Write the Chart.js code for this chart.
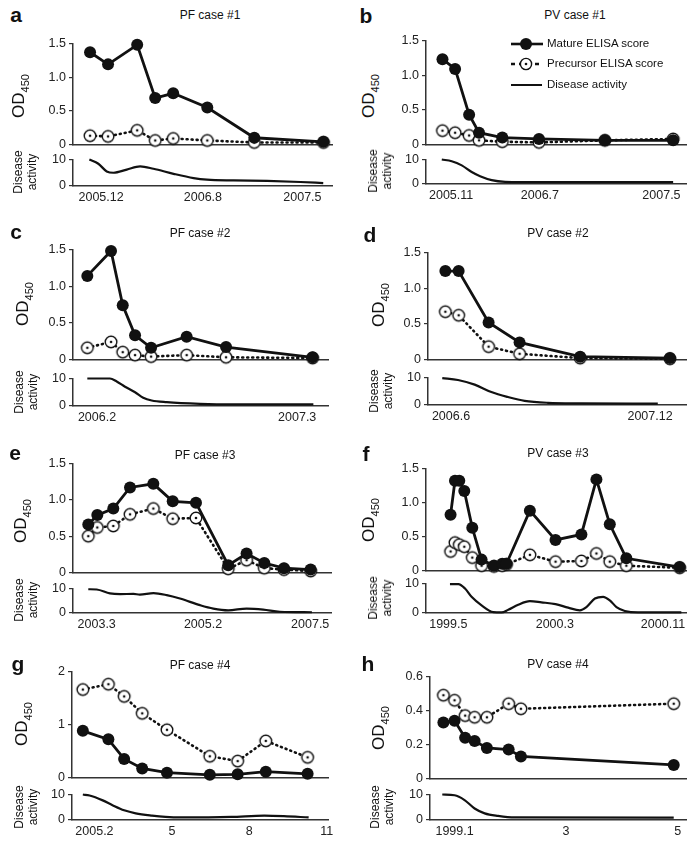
<!DOCTYPE html>
<html>
<head>
<meta charset="utf-8">
<script src="https://cdn.jsdelivr.net/npm/chart.js@4.4.1/dist/chart.umd.min.js"></script>
<style>
  body { margin: 0; background: #fff; font-family: "Liberation Sans", Arial, sans-serif; }
  #fig { position: relative; width: 696px; height: 848px; overflow: hidden; }
  #fig canvas { position: absolute; }
  .txt { position: absolute; white-space: nowrap; color: #111; transform: translate(-50%, -50%); }
  .rot { transform: translate(-50%, -50%) rotate(-90deg); text-align: center; }
  .letter { font-weight: bold; font-size: 21px; }
  .title { font-size: 12px; }
  .od { font-size: 17px; }
  .od sub { font-size: 11px; }
  .da { font-size: 12px; line-height: 14px; }
  .leg { position: absolute; font-size: 11.5px; color: #111; white-space: nowrap; }
</style>
</head>
<body>
<div id="fig"></div>
<script>
// time axis: months from the first labelled date (g, h: month number)

// a - PF case #1
const aTime = [-0.93, 0.59, 3.05, 4.57, 6.09, 8.97, 12.94, 18.78];
const aMature = [1.37, 1.19, 1.48, 0.69, 0.76, 0.55, 0.10, 0.04];
const aPrecursor = [0.13, 0.12, 0.21, 0.06, 0.09, 0.06, 0.03, 0.03];
const aDisTime = [-0.99, -0.23, 0.48, 1.04, 2.17, 3.3, 4.42, 6.12, 7.81, 8.94, 11.2, 14.02, 16.84, 18.76];
const aDisease = [10, 8.4, 5.5, 5.0, 6.2, 7.4, 6.5, 4.6, 3.0, 2.4, 2.1, 1.9, 1.5, 1.1];
const aTicks = [0, 8.6, 17];
const aTickLabels = ['2005.12', '2006.8', '2007.5'];

// b - PV case #1
const bTime = [-0.74, 0.34, 1.54, 2.39, 4.38, 7.52, 13.16, 19.0];
const bMature = [1.23, 1.09, 0.43, 0.17, 0.10, 0.08, 0.06, 0.06];
const bPrecursor = [0.20, 0.17, 0.13, 0.06, 0.04, 0.03, 0.06, 0.08];
const bDisTime = [-0.8, 0.05, 0.91, 1.76, 2.48, 3.47, 4.62, 6.03, 19.0];
const bDisease = [10, 9.3, 7.6, 4.9, 3.2, 1.6, 0.9, 0.8, 0.8];
const bTicks = [0, 7.6, 18];
const bTickLabels = ['2005.11', '2006.7', '2007.5'];

// c - PF case #2
const cTime = [-0.63, 0.91, 1.67, 2.47, 3.51, 5.82, 8.38, 14.0];
const cMature = [1.14, 1.48, 0.74, 0.33, 0.16, 0.31, 0.17, 0.03];
const cPrecursor = [0.16, 0.24, 0.10, 0.06, 0.04, 0.06, 0.03, 0.02];
const cDisTime = [-0.63, 0.84, 1.28, 1.82, 2.47, 3.0, 3.55, 4.53, 6.69, 8.85, 14.05];
const cDisease = [10, 10, 8.9, 7.0, 5.0, 3.0, 2.0, 1.4, 0.8, 0.6, 0.6];
const cTicks = [0, 13];
const cTickLabels = ['2006.2', '2007.3'];

// d - PV case #2
const dTime = [-0.51, 0.69, 3.4, 6.2, 11.68, 19.8];
const dMature = [1.24, 1.24, 0.52, 0.24, 0.04, 0.02];
const dPrecursor = [0.67, 0.62, 0.18, 0.08, 0.02, 0.01];
const dDisTime = [-0.79, 0.63, 2.14, 3.65, 5.15, 6.66, 8.77, 11.78, 18.7];
const dDisease = [9.8, 9.1, 7.4, 4.7, 2.9, 1.5, 0.8, 0.6, 0.5];
const dTicks = [0, 18];
const dTickLabels = ['2006.6', '2007.12'];

// e - PF case #3
const eTime = [-1.97, 0.14, 3.89, 7.8, 13.26, 17.8, 23.25, 30.8, 35.1, 39.25, 43.86, 50.1];
const eMature = [0.66, 0.79, 0.88, 1.17, 1.22, 0.98, 0.96, 0.10, 0.26, 0.13, 0.06, 0.04];
const ePrecursor = [0.50, 0.62, 0.64, 0.80, 0.88, 0.74, 0.75, 0.05, 0.17, 0.06, 0.04, 0.02];
const eDisTime = [-1.97, 0, 3.1, 5.5, 8.6, 10.1, 13.3, 16.4, 19.5, 24.2, 27.3, 30.8, 35.1, 39.0, 42.9, 50.4];
const eDisease = [9.7, 9.6, 8.0, 7.7, 7.8, 7.5, 8.1, 7.3, 5.9, 3.2, 1.8, 1.1, 1.8, 1.4, 0.5, 0.3];
const eTicks = [0, 24.9, 50];
const eTickLabels = ['2003.3', '2005.2', '2007.5'];

// f - PV case #3
const fTime = [0.19, 0.56, 0.92, 1.34, 2.01, 2.79, 3.83, 4.52, 4.88, 6.84, 8.99, 11.16, 12.42, 13.54, 14.93, 19.4];
const fMature = [0.82, 1.32, 1.32, 1.17, 0.63, 0.16, 0.07, 0.10, 0.10, 0.88, 0.45, 0.53, 1.34, 0.68, 0.18, 0.05];
const fPrecursor = [0.28, 0.41, 0.38, 0.35, 0.19, 0.07, 0.06, 0.07, 0.09, 0.23, 0.13, 0.14, 0.25, 0.13, 0.07, 0.04];
const fDisTime = [0.14, 0.84, 1.4, 1.95, 2.79, 3.77, 4.47, 5.03, 5.86, 6.84, 7.81, 8.99, 10.05, 11.03, 11.58, 12.29, 12.98, 13.54, 14.1, 14.8, 15.91, 19.54];
const fDisease = [9.8, 9.8, 8.3, 5.5, 2.6, 0.3, 0.2, 1.1, 2.8, 4.0, 3.6, 3.0, 1.8, 0.9, 2.0, 4.9, 5.5, 4.3, 2.0, 0.7, 0.2, 0.2];
const fTicks = [0, 8.93, 18];
const fTickLabels = ['1999.5', '2000.3', '2000.11'];

// g - PF case #4
const gTime = [1.55, 2.54, 3.15, 3.85, 4.81, 6.47, 7.55, 8.64, 10.26];
const gMature = [0.88, 0.72, 0.35, 0.17, 0.09, 0.05, 0.06, 0.11, 0.07];
const gPrecursor = [1.66, 1.76, 1.53, 1.21, 0.90, 0.40, 0.31, 0.69, 0.38];
const gDisTime = [1.55, 1.81, 2.32, 2.70, 3.15, 3.60, 4.23, 4.75, 5.38, 7.3, 8.58, 9.34, 10.3];
const gDisease = [10, 9.6, 7.7, 5.8, 3.8, 2.6, 1.7, 1.2, 1.0, 1.2, 1.7, 1.5, 1.0];
const gTicks = [2, 5, 8, 11];
const gTickLabels = ['2005.2', '5', '8', '11'];

// h - PV case #4
const hTime = [0.80, 1.0, 1.19, 1.36, 1.58, 1.97, 2.19, 4.93];
const hMature = [0.33, 0.34, 0.24, 0.22, 0.18, 0.17, 0.13, 0.08];
const hPrecursor = [0.49, 0.46, 0.37, 0.36, 0.36, 0.44, 0.41, 0.44];
const hDisTime = [0.78, 1.0, 1.18, 1.36, 1.54, 1.78, 2.08, 4.93];
const hDisease = [10, 9.7, 7.8, 4.5, 2.6, 1.6, 1.0, 0.9];
const hTicks = [1, 3, 5];
const hTickLabels = ['1999.1', '3', '5'];

const panels = [
  { letter: 'a', title: 'PF case #1', time: aTime, mature: aMature, precursor: aPrecursor, disTime: aDisTime, disease: aDisease, ticks: aTicks, tickLabels: aTickLabels, xMin: -2.37, xMax: 19.5, yMax: 1.5, yStep: 0.5,
    od: { left: 73, right: 332, top: 43, bottom: 147 }, da: { top: 159, bottom: 186 }, letterAt: [16, 15], titleAt: [210, 15], odAt: [20, 96], daAt: [25, 172] },
  { letter: 'b', title: 'PV case #1', time: bTime, mature: bMature, precursor: bPrecursor, disTime: bDisTime, disease: bDisease, ticks: bTicks, tickLabels: bTickLabels, xMin: -2.15, xMax: 20.1, yMax: 1.5, yStep: 0.5,
    od: { left: 426, right: 686, top: 40, bottom: 147 }, da: { top: 159, bottom: 184 }, letterAt: [366, 16], titleAt: [575, 15], odAt: [370, 96], daAt: [380, 171] },
  { letter: 'c', title: 'PF case #2', time: cTime, mature: cMature, precursor: cPrecursor, disTime: cDisTime, disease: cDisease, ticks: cTicks, tickLabels: cTickLabels, xMin: -1.56, xMax: 15.0, yMax: 1.5, yStep: 0.5,
    od: { left: 73, right: 328, top: 249, bottom: 362 }, da: { top: 378, bottom: 406 }, letterAt: [16, 232], titleAt: [200, 233], odAt: [24, 304], daAt: [26, 392] },
  { letter: 'd', title: 'PV case #2', time: dTime, mature: dMature, precursor: dPrecursor, disTime: dDisTime, disease: dDisease, ticks: dTicks, tickLabels: dTickLabels, xMin: -2.08, xMax: 21.25, yMax: 1.5, yStep: 0.5,
    od: { left: 428, right: 686, top: 252, bottom: 362 }, da: { top: 377, bottom: 405 }, letterAt: [370, 235], titleAt: [558, 233], odAt: [380, 305], daAt: [381, 391] },
  { letter: 'e', title: 'PF case #3', time: eTime, mature: eMature, precursor: ePrecursor, disTime: eDisTime, disease: eDisease, ticks: eTicks, tickLabels: eTickLabels, xMin: -5.55, xMax: 54.87, yMax: 1.5, yStep: 0.5,
    od: { left: 73, right: 331, top: 463, bottom: 575 }, da: { top: 588, bottom: 613 }, letterAt: [15, 453], titleAt: [205, 455], odAt: [22, 521], daAt: [26, 600] },
  { letter: 'f', title: 'PV case #3', time: fTime, mature: fMature, precursor: fPrecursor, disTime: fDisTime, disease: fDisease, ticks: fTicks, tickLabels: fTickLabels, xMin: -1.87, xMax: 19.93, yMax: 1.5, yStep: 0.5,
    od: { left: 426, right: 686, top: 468, bottom: 573 }, da: { top: 583, bottom: 613 }, letterAt: [366, 454], titleAt: [558, 453], odAt: [370, 520], daAt: [380, 598] },
  { letter: 'g', title: 'PF case #4', time: gTime, mature: gMature, precursor: gPrecursor, disTime: gDisTime, disease: gDisease, ticks: gTicks, tickLabels: gTickLabels, xMin: 1.13, xMax: 11.05, yMax: 2, yStep: 1,
    od: { left: 72, right: 328, top: 671, bottom: 780 }, da: { top: 794, bottom: 820 }, letterAt: [18, 664], titleAt: [200, 665], odAt: [23, 724], daAt: [26, 807] },
  { letter: 'h', title: 'PV case #4', time: hTime, mature: hMature, precursor: hPrecursor, disTime: hDisTime, disease: hDisease, ticks: hTicks, tickLabels: hTickLabels, xMin: 0.56, xMax: 5.15, yMax: 0.6, yStep: 0.2,
    od: { left: 430, right: 686, top: 676, bottom: 781 }, da: { top: 794, bottom: 820 }, letterAt: [368, 664], titleAt: [558, 664], odAt: [380, 728], daAt: [382, 807] }
];

const fig = document.getElementById('fig');
const INK = '#111';
const AXIS = '#333';
const Y_W = 44;     // space for y tick labels
const PAD_T = 10;
const PAD_R = 14;
const X_H = 22;     // space for x tick labels under disease chart

Chart.defaults.font.family = '"Liberation Sans", Arial, sans-serif';
Chart.defaults.font.size = 12.5;
Chart.defaults.color = '#222';

// open circle with a dot in the middle (precursor marker)
function ringDot() {
  const c = document.createElement('canvas');
  c.width = 16; c.height = 16;
  const g = c.getContext('2d');
  g.beginPath(); g.arc(8, 8, 5.8, 0, Math.PI * 2);
  g.fillStyle = '#fff'; g.fill();
  g.lineWidth = 1.4; g.strokeStyle = INK; g.stroke();
  g.beginPath(); g.arc(8, 8, 1.3, 0, Math.PI * 2);
  g.fillStyle = INK; g.fill();
  return c;
}
const ringImg = ringDot();

function pts(xs, ys) {
  return xs.map((x, i) => ({ x: x, y: ys[i] }));
}

function addText(html, cls, at) {
  const d = document.createElement('div');
  d.className = 'txt ' + cls;
  d.innerHTML = html;
  d.style.left = at[0] + 'px';
  d.style.top = at[1] + 'px';
  fig.appendChild(d);
}

function addChart(box, withLabels, datasets, p, yOpts) {
  const c = document.createElement('canvas');
  const w = box.right - box.left + Y_W + PAD_R;
  const h = box.bottom - box.top + PAD_T + (withLabels ? X_H : 8);
  c.width = w; c.height = h;
  c.style.width = w + 'px'; c.style.height = h + 'px';
  c.style.left = (box.left - Y_W) + 'px';
  c.style.top = (box.top - PAD_T) + 'px';
  fig.appendChild(c);

  new Chart(c, {
    type: 'line',
    data: { datasets: datasets },
    options: {
      responsive: false,
      animation: false,
      events: [],
      layout: { padding: { top: PAD_T, right: PAD_R, bottom: withLabels ? 0 : 8, left: 0 } },
      plugins: { legend: { display: false }, tooltip: { enabled: false } },
      scales: {
        x: {
          type: 'linear',
          min: p.xMin,
          max: p.xMax,
          afterFit: s => { s.height = withLabels ? X_H : 0; },
          afterBuildTicks: s => { s.ticks = p.ticks.map(v => ({ value: v })); },
          grid: { display: false, drawTicks: false },
          border: { display: true, color: AXIS, width: 1.5 },
          ticks: {
            display: withLabels,
            autoSkip: false,
            maxRotation: 0,
            padding: 4,
            color: '#222',
            callback: (v, i) => p.tickLabels[i]
          }
        },
        y: {
          min: 0,
          max: yOpts.max,
          afterFit: s => { s.width = Y_W; },
          grid: { display: true, drawOnChartArea: false, drawTicks: true, tickLength: 4, color: AXIS, lineWidth: 1.2 },
          border: { display: true, color: AXIS, width: 1.5 },
          ticks: { stepSize: yOpts.step, padding: 3, color: '#222' }
        }
      }
    }
  });
}

panels.forEach(p => {
  // ELISA scores
  addChart(p.od, false, [
    {
      label: 'Mature ELISA score',
      data: pts(p.time, p.mature),
      borderColor: INK,
      borderWidth: 2.8,
      pointStyle: 'circle',
      pointRadius: 6,
      pointBackgroundColor: INK,
      pointBorderColor: INK,
      pointBorderWidth: 0,
      tension: 0,
      clip: false
    },
    {
      label: 'Precursor ELISA score',
      data: pts(p.time, p.precursor),
      borderColor: INK,
      borderWidth: 2.6,
      borderDash: [1, 4],
      borderCapStyle: 'round',
      pointStyle: ringImg,
      pointRadius: 6,
      tension: 0,
      clip: false
    }
  ], p, { max: p.yMax, step: p.yStep });

  // disease activity
  addChart({ left: p.od.left, right: p.od.right, top: p.da.top, bottom: p.da.bottom }, true, [
    {
      label: 'Disease activity',
      data: pts(p.disTime, p.disease),
      borderColor: INK,
      borderWidth: 2.2,
      pointRadius: 0,
      cubicInterpolationMode: 'monotone',
      clip: false
    }
  ], p, { max: 10, step: 10 });

  addText(p.letter, 'letter', p.letterAt);
  addText(p.title, 'title', p.titleAt);
  addText('OD<sub>450</sub>', 'rot od', p.odAt);
  addText('Disease<br>activity', 'rot da', p.daAt);
});

// legend (panel b)
const legSvg = `
<svg width="50" height="60" style="position:absolute;left:505px;top:34px" xmlns="http://www.w3.org/2000/svg">
  <line x1="6" y1="10" x2="38" y2="10" stroke="${INK}" stroke-width="2.6"/>
  <circle cx="21" cy="10" r="6" fill="${INK}"/>
  <line x1="6" y1="30" x2="38" y2="30" stroke="${INK}" stroke-width="2.4" stroke-dasharray="4 4"/>
  <circle cx="21" cy="30" r="5.6" fill="#fff" stroke="${INK}" stroke-width="1.4"/>
  <circle cx="21" cy="30" r="1.3" fill="${INK}"/>
  <line x1="6" y1="51" x2="37" y2="51" stroke="${INK}" stroke-width="2"/>
</svg>`;
fig.insertAdjacentHTML('beforeend', legSvg);
const legItems = [['Mature ELISA score', 44], ['Precursor ELISA score', 64], ['Disease activity', 85]];
legItems.forEach(([t, y]) => {
  const d = document.createElement('div');
  d.className = 'leg';
  d.textContent = t;
  d.style.left = '547px';
  d.style.top = (y - 7) + 'px';
  fig.appendChild(d);
});
</script>
</body>
</html>
